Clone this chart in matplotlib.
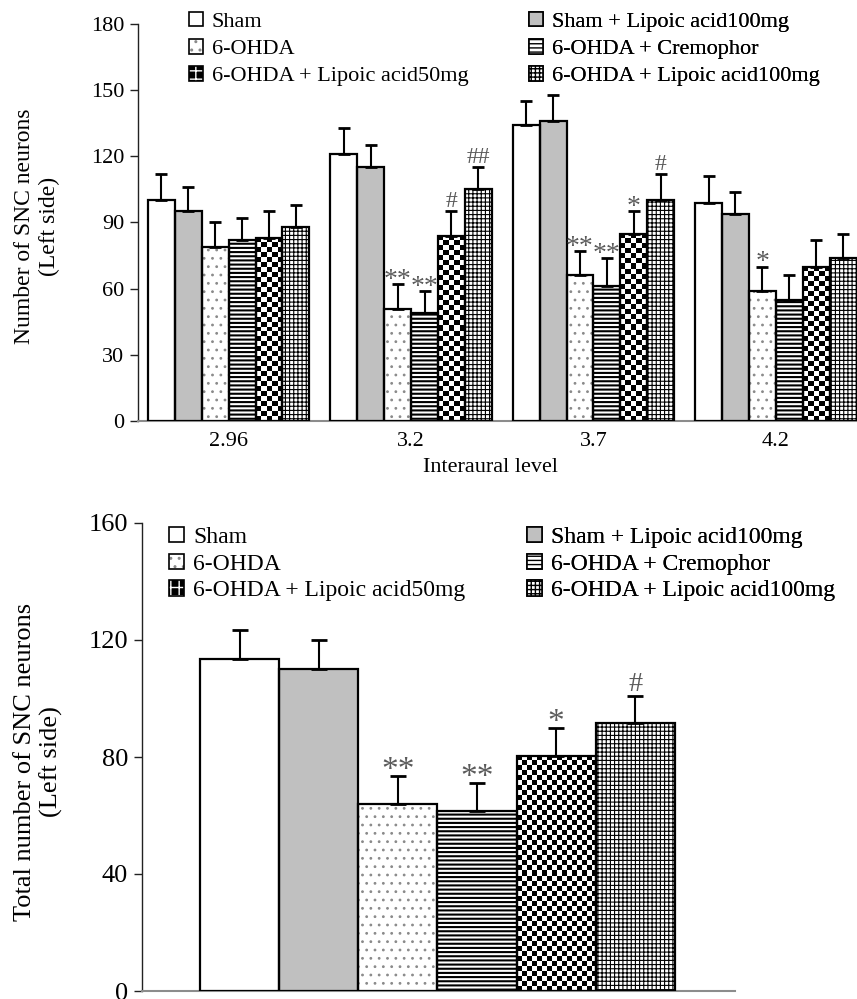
import numpy as np
import matplotlib.pyplot as plt
from matplotlib.patches import Patch

plt.rcParams['font.family'] = 'Liberation Serif'
plt.rcParams['hatch.linewidth'] = 1.0

# ---- data ----
levels = ['2.96', '3.2', '3.7', '4.2']
groups = ['Sham', 'Sham + Lipoic acid100mg', '6-OHDA', '6-OHDA + Cremophor',
          '6-OHDA + Lipoic acid50mg', '6-OHDA + Lipoic acid100mg']

sham = [100, 121, 134, 99]
sham_la = [95, 115, 136, 94]
ohda = [79, 51, 66, 59]
crem = [82, 49, 61, 55]
la50 = [83, 84, 85, 70]
la100 = [88, 105, 100, 74]

sham_err = [12, 12, 11, 12]
sham_la_err = [11, 10, 12, 10]
ohda_err = [11, 11, 11, 11]
crem_err = [10, 10, 13, 11]
la50_err = [12, 11, 10, 12]
la100_err = [10, 10, 12, 11]

sham_sig = ['', '', '', '']
sham_la_sig = ['', '', '', '']
ohda_sig = ['', '**', '**', '*']
crem_sig = ['', '**', '**', '']
la50_sig = ['', '#', '*', '']
la100_sig = ['', '##', '#', '']

total = [113.5, 110, 64, 61.5, 80.5, 91.5]
total_err = [10, 10, 9.5, 9.5, 9.5, 9.5]
total_sig = ['', '', '**', '**', '*', '#']

top_means = [sham, sham_la, ohda, crem, la50, la100]
top_errs = [sham_err, sham_la_err, ohda_err, crem_err, la50_err, la100_err]
top_sigs = [sham_sig, sham_la_sig, ohda_sig, crem_sig, la50_sig, la100_sig]

W, H = 857, 999
fig = plt.figure(figsize=(W / 100, H / 100), dpi=100)
ax1 = fig.add_axes([138 / W, 1 - 421 / H, 1 - 138 / W, (421 - 24) / H])
ax2 = fig.add_axes([142 / W, 1 - 991 / H, (735 - 142) / W, (991 - 523) / H])

ax1.set_xlim(-0.497, 3.445)
ax1.set_ylim(0, 180)
ax2.set_xlim(-1.234, 6.26)
ax2.set_ylim(0, 160)

GRAY_HATCH = '#8a8a8a'
SIG_COLOR = '#5a5a5a'


def hatch_bar(ax, x, h, w, fc, hc, hatch, hlw):
    with plt.rc_context({'hatch.linewidth': hlw}):
        bars = ax.bar(x, h, w, color=fc, edgecolor=hc, hatch=hatch, linewidth=0, zorder=2)
    for b in bars:
        if hasattr(b, 'set_hatch_linewidth'):
            b.set_hatch_linewidth(hlw)


def checker_bar(ax, x, h, w, cell=5.0):
    for xi, hi in zip(x, h):
        x0 = xi - w / 2
        p0 = ax.transData.transform((x0, 0))
        p1 = ax.transData.transform((x0 + w, hi))
        nx = max(1, int(round(abs(p1[0] - p0[0]) / cell)))
        ny = max(1, int(round(abs(p1[1] - p0[1]) / cell)))
        grid = np.indices((ny, nx)).sum(axis=0) % 2
        ax.imshow(grid, cmap='gray', vmin=0, vmax=1, extent=(x0, x0 + w, 0, hi),
                  origin='lower', interpolation='nearest', aspect='auto', zorder=2)


def draw_series(ax, k, x, h, w):
    if k == 0:
        ax.bar(x, h, w, color='white', zorder=2)
    elif k == 1:
        ax.bar(x, h, w, color='#c0c0c0', zorder=2)
    elif k == 2:
        hatch_bar(ax, x, h, w, 'white', GRAY_HATCH, '..', 0.8)
    elif k == 3:
        hatch_bar(ax, x, h, w, 'white', 'black', '----', 1.5)
    elif k == 4:
        checker_bar(ax, x, h, w)
    elif k == 5:
        hatch_bar(ax, x, h, w, 'white', 'black', '++++', 0.8)
    ax.bar(x, h, w, fill=False, edgecolor='black', linewidth=1.6, zorder=3)


def legend_handles():
    hs = [
        Patch(fc='white', ec='black', lw=1.2),
        Patch(fc='#c0c0c0', ec='black', lw=1.2),
        (Patch(fc='white', ec=GRAY_HATCH, hatch='..', lw=0), Patch(fill=False, ec='black', lw=1.2)),
        Patch(fc='white', ec='black', hatch='----', lw=1.2),
        (Patch(fc='black', ec='white', hatch='++', lw=0), Patch(fill=False, ec='black', lw=1.2)),
        Patch(fc='white', ec='black', hatch='++++', lw=1.2),
    ]
    return hs


def add_legends(ax, x1, x2, ytop, fs, spacing):
    hs = legend_handles()
    for cols, xp in (([0, 2, 4], x1), ([1, 3, 5], x2)):
        leg = ax.legend([hs[i] for i in cols], [groups[i] for i in cols],
                        loc='upper left', bbox_to_anchor=(xp / W, 1 - ytop / H),
                        bbox_transform=fig.transFigure, frameon=False, fontsize=fs,
                        handlelength=0.62, handleheight=0.62, handletextpad=0.4,
                        labelspacing=spacing, borderpad=0, borderaxespad=0)
        ax.add_artist(leg)


def style_axes(ax, fs):
    for s in ('top', 'right'):
        ax.spines[s].set_visible(False)
    ax.spines['left'].set_color('#222222')
    ax.spines['left'].set_linewidth(1.0)
    ax.spines['bottom'].set_color('#8c8c8c')
    ax.spines['bottom'].set_linewidth(1.5)
    ax.tick_params(axis='y', direction='out', length=6, width=1, color='#222222',
                   labelsize=fs, pad=4)
    ax.tick_params(axis='x', length=0, labelsize=fs)


def mark(ax, x, y, s, fs):
    # asterisks sit high in the font, hashes sit on the baseline
    off = -2 if '*' in s else 3
    ax.annotate(s, (x, y), xytext=(0, off), textcoords='offset points',
                ha='center', va='baseline', fontsize=fs if '*' in s else fs * 0.85,
                color=SIG_COLOR)


# ---- top panel ----
w1 = 27 / 183
centers = np.arange(len(levels))
for k in range(len(groups)):
    xs = centers + (k - 2.5) * w1
    draw_series(ax1, k, xs, top_means[k], w1)
    ax1.errorbar(xs, top_means[k], yerr=[np.zeros(len(levels)), top_errs[k]], fmt='none',
                 ecolor='black', elinewidth=1.5, capsize=4.5, capthick=2, zorder=4)
    for xi, m, e, s in zip(xs, top_means[k], top_errs[k], top_sigs[k]):
        if s:
            mark(ax1, xi, m + e, s, 20)

ax1.set_xlim(-0.497, 3.445)
ax1.set_ylim(0, 180)
ax1.set_yticks(np.arange(0, 181, 30))
ax1.set_xticks(centers)
ax1.set_xticklabels(levels)
style_axes(ax1, 16)
ax1.tick_params(axis='x', pad=8)
ax1.set_ylabel('Number of SNC neurons\n(Left side)', fontsize=17, linespacing=1.25, va='center')
ax1.yaxis.set_label_coords(-0.1405, 0.49)
ax1.set_xlabel('Interaural level', fontsize=16, va='center')
ax1.xaxis.set_label_coords(0.4896, -0.116)
add_legends(ax1, 189, 529, 12, 16, 0.32)

# ---- bottom panel ----
xb = np.arange(len(groups))
for k in range(len(groups)):
    draw_series(ax2, k, [xb[k]], [total[k]], 1.0)
ax2.errorbar(xb, total, yerr=[np.zeros(len(groups)), total_err], fmt='none',
             ecolor='black', elinewidth=1.5, capsize=5.5, capthick=2, zorder=4)
for xi, m, e, s in zip(xb, total, total_err, total_sig):
    if s:
        mark(ax2, xi, m + e, s, 24)

ax2.set_xlim(-1.234, 6.26)
ax2.set_ylim(0, 160)
ax2.set_yticks(np.arange(0, 161, 40))
ax2.set_xticks([])
style_axes(ax2, 19)
ax2.set_ylabel('Total number of SNC neurons\n(Left side)', fontsize=19, linespacing=1.2, va='center')
ax2.yaxis.set_label_coords(-0.1745, 0.49)
add_legends(ax2, 169, 527, 527, 17, 0.24)

fig.savefig('out.png', dpi=100)
